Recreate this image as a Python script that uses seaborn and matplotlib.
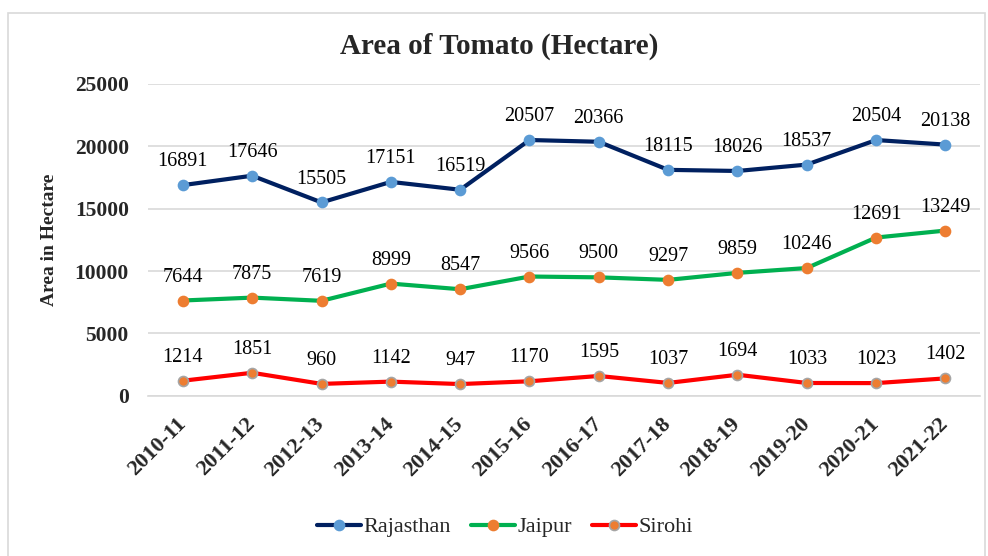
import matplotlib
matplotlib.use("Agg")
from matplotlib import pyplot as plt
import matplotlib.patches as mpatches
import seaborn as sns
import pandas as pd

years = ['2010-11', '2011-12', '2012-13', '2013-14', '2014-15', '2015-16',
         '2016-17', '2017-18', '2018-19', '2019-20', '2020-21', '2021-22']
rajasthan = [16891, 17646, 15505, 17151, 16519, 20507, 20366, 18115, 18026, 18537, 20504, 20138]
jaipur = [7644, 7875, 7619, 8999, 8547, 9566, 9500, 9297, 9859, 10246, 12691, 13249]
sirohi = [1214, 1851, 960, 1142, 947, 1170, 1595, 1037, 1694, 1033, 1023, 1402]

sns.set_style("white")
plt.rcParams['font.family'] = ['Liberation Serif', 'DejaVu Serif']

fig = plt.figure(figsize=(9.88, 5.56), dpi=100)
ax = fig.add_axes([0.150, 0.288, 0.842, 0.561])

series = [
    ('Rajasthan', rajasthan, '#002060', '#5B9BD5', '#5B9BD5'),
    ('Jaipur', jaipur, '#00B050', '#ED7D31', '#ED7D31'),
    ('Sirohi', sirohi, '#FF0000', '#ED7D31', '#A5A5A5'),
]

idx = list(range(len(years)))
for name, vals, lc, mfc, mec in series:
    df = pd.DataFrame({'x': idx, 'y': vals})
    sns.lineplot(data=df, x='x', y='y', ax=ax, color=lc, linewidth=3,
                 marker='o', markersize=7.2, markerfacecolor=mfc,
                 markeredgecolor=mec, markeredgewidth=1.2, label=name)
    for i, v in zip(idx, vals):
        ax.annotate(str(v), (i, v), xytext=(0, 10), textcoords='offset points',
                    ha='center', va='bottom', fontsize=14.5, color='#000000')

ax.set_xlim(-0.5, len(years) - 0.5)
ax.set_ylim(0, 25000)
ax.set_yticks([0, 5000, 10000, 15000, 20000, 25000])
ax.set_yticklabels(['0', '5000', '10000', '15000', '20000', '25000'],
                   fontsize=15.5, fontweight='bold')
ax.set_xticks(idx)
ax.set_xticklabels(years, fontsize=16, fontweight='bold', rotation=45,
                   ha='right', va='center', rotation_mode='anchor')
ax.tick_params(axis='y', length=0, pad=14)
ax.tick_params(axis='x', length=0, pad=18)
ax.grid(axis='y', color='#D9D9D9', linewidth=1.2)
ax.set_axisbelow(True)
for s in ['top', 'right', 'left']:
    ax.spines[s].set_visible(False)
ax.spines['bottom'].set_color('#D9D9D9')
ax.spines['bottom'].set_linewidth(1.2)

ax.set_xlabel('')
ax.set_ylabel('Area in Hectare', fontsize=14, fontweight='bold', labelpad=12)
fig.text(0.505, 0.916, 'Area of Tomato (Hectare)', ha='center', va='center',
         fontsize=21, fontweight='bold')

ax.legend(loc='center', bbox_to_anchor=(0.511, 0.052), bbox_transform=fig.transFigure,
          ncol=3, frameon=False, fontsize=16, handlelength=2.0,
          columnspacing=0.9, handletextpad=0.1)

fig.patches.append(mpatches.Rectangle((8 / 988, -0.01), 977 / 988, 1 - 13 / 556 + 0.01,
                                      transform=fig.transFigure, fill=False,
                                      edgecolor='#D9D9D9', linewidth=1.2))

fig.savefig('out.png', dpi=100)
